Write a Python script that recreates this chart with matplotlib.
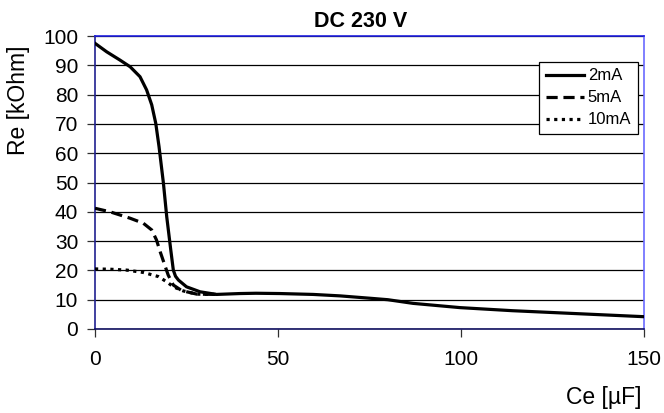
import matplotlib
matplotlib.use("Agg")
import matplotlib.pyplot as plt

plt.rcParams['font.family'] = ['Liberation Sans', 'DejaVu Sans']

# Re [kOhm] against Ce [uF], DC 230 V
ce_2ma = [0, 3.2, 6.8, 9.6, 12.3, 14.1, 15.5, 16.6, 17.5, 18.0, 18.7, 19.6, 20.7, 21.4, 22.0, 22.8, 25.0,
          28.7, 33.2, 39.6, 44, 50.5, 59.6, 67, 75.1, 80, 86.9, 99.7, 114, 128, 150]
re_2ma = [97.5, 94.6, 91.8, 89.5, 86.1, 81.6, 76.5, 70.2, 62.2, 57, 49.7, 38.3, 27, 20.1, 18.0, 16.7, 14.4,
          12.7, 11.8, 12.1, 12.2, 12.1, 11.8, 11.3, 10.5, 10.0, 8.75, 7.3, 6.25, 5.45, 4.2]

ce_5ma = [0, 4.1, 9.6, 13.2, 15.5, 16.8, 17.8, 18.9, 20.0, 21.4, 23.7, 27.8, 33.2]
re_5ma = [41.2, 40.0, 37.8, 36.1, 33.8, 30.4, 26.4, 22.4, 18.4, 15.0, 13.1, 11.9, 11.8]

ce_10ma = [0, 4.1, 8.7, 13.2, 17.3, 19.6, 21.4, 24.1, 27.8, 33.2]
re_10ma = [20.5, 20.4, 20.1, 19.3, 17.9, 16.1, 14.4, 13.0, 11.9, 11.8]

labels = ['2mA', '5mA', '10mA']
x_ticks = [0, 50, 100, 150]
y_ticks = list(range(0, 101, 10))

fig = plt.figure(figsize=(6.64, 4.13), dpi=100)
ax = fig.add_axes([95/664, 1 - 329/413, 549/664, 293/413])

ax.plot(ce_2ma, re_2ma, color='black', lw=2.3, label=labels[0], zorder=5,
        solid_joinstyle='round')
ax.plot(ce_5ma, re_5ma, color='black', lw=2.3, dashes=(3.5, 1.8), label=labels[1], zorder=4)
ax.plot(ce_10ma, re_10ma, color='black', lw=2.3, dashes=(1.0, 1.4), label=labels[2], zorder=3)

ax.set_xlim(0, 150)
ax.set_ylim(0, 100)
ax.set_xticks(x_ticks)
ax.set_yticks(y_ticks)
ax.yaxis.grid(True, color='black', lw=0.9)
ax.set_axisbelow(True)

ax.tick_params(direction='out', length=5.6, width=0.9, color='#303030', labelsize=15)
ax.tick_params(axis='x', pad=9.5)
ax.tick_params(axis='y', pad=6.5)

ax.spines['left'].set_color('#202090')
ax.spines['bottom'].set_color('#101060')
ax.spines['top'].set_color('#2020e0')
ax.spines['right'].set_color('#6a6aff')
for s in ax.spines.values():
    s.set_linewidth(1.2)

fig.text(361/664, 1 - 26.7/413, 'DC 230 V', fontsize=15.5, fontweight='bold',
         ha='center', va='baseline')
ax.set_ylabel('Re [kOhm]', fontsize=16.5, va='center')
ax.yaxis.set_label_coords(-0.140, 0.78)
fig.text(642/664, 1 - 404/413, 'Ce [µF]', fontsize=16.5, ha='right', va='baseline')

leg = ax.legend(loc='upper right', bbox_to_anchor=(0.989, 0.912), fontsize=12,
                frameon=True, fancybox=False, framealpha=1, edgecolor='black',
                handlelength=2.3, handletextpad=0.2, labelspacing=0.42,
                borderpad=0.4, borderaxespad=0)
leg.get_frame().set_linewidth(0.9)

fig.savefig('out.png', dpi=100)
